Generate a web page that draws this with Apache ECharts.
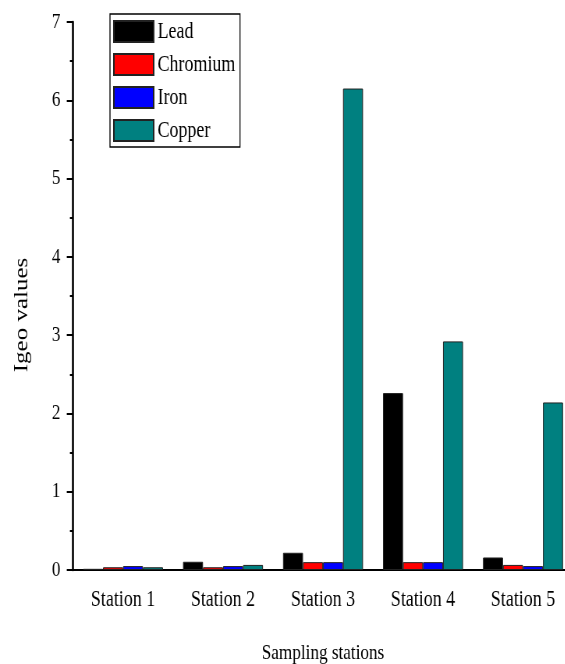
<!DOCTYPE html>
<html>
<head>
<meta charset="utf-8">
<script src="https://cdn.jsdelivr.net/npm/echarts@6/dist/echarts.min.js"></script>
<style>
html,body{margin:0;padding:0;overflow:hidden;background:#fff;width:565px;height:664px;}
#c{width:724px;height:664px;transform:scaleX(0.78);transform-origin:0 0;}
</style>
</head>
<body>
<div id="c"></div>
<script>
const categories = ['Station 1', 'Station 2', 'Station 3', 'Station 4', 'Station 5'];
const lead = [0.015, 0.105, 0.22, 2.26, 0.16];
const chromium = [0.035, 0.035, 0.1, 0.1, 0.065];
const iron = [0.05, 0.05, 0.1, 0.1, 0.05];
const copper = [0.035, 0.065, 6.15, 2.92, 2.14];
const seriesNames = ['Lead', 'Chromium', 'Iron', 'Copper'];
const colors = ['#000000', '#ff0000', '#0000ff', '#008080'];
const yTicks = [0, 1, 2, 3, 4, 5, 6, 7];

const font = 'Liberation Serif';
const chart = echarts.init(document.getElementById('c'), null, {renderer: 'canvas'});
const seriesData = [lead, chromium, iron, copper];
chart.setOption({
  animation: false,
  textStyle: {fontFamily: font, color: '#000'},
  color: colors,
  legend: {
    left: 141, top: 14, orient: 'vertical',
    icon: 'rect',
    itemWidth: 51, itemHeight: 21, itemGap: 10,
    padding: [6, 6, 5, 4],
    borderColor: '#000', borderWidth: 1.3,
    textStyle: {fontFamily: font, fontSize: 23, color: '#000'},
    data: seriesNames
  },
  grid: {left: 93.6, top: 22, width: 641, bottom: 94, containLabel: false, outerBoundsMode: 'none'},
  xAxis: [{
    type: 'category', data: categories, position: 'bottom',
    axisLine: {lineStyle: {color: '#000', width: 2}},
    axisTick: {alignWithLabel: true, length: 12, lineStyle: {color: '#000', width: 2.3}},
    axisLabel: {fontFamily: font, fontSize: 23, color: '#000', margin: 18},
    name: 'Sampling stations', nameLocation: 'middle', nameGap: 72,
    nameTextStyle: {fontFamily: font, fontSize: 22, color: '#000'}
  }, {
    type: 'category', data: categories, position: 'bottom', offset: 0,
    axisLine: {show: false},
    axisTick: {length: 5, lineStyle: {color: '#000', width: 2.3}},
    axisLabel: {show: false}
  }],
  yAxis: {
    type: 'value', min: 0, max: 7, interval: 1,
    axisLine: {show: true, lineStyle: {color: '#000', width: 2.6}},
    axisTick: {show: true, length: 8, lineStyle: {color: '#000', width: 2}},
    minorTick: {show: true, splitNumber: 2, length: 4, lineStyle: {color: '#000', width: 2}},
    splitLine: {show: false},
    axisLabel: {fontFamily: font, fontSize: 22, color: '#000', margin: 16,
      formatter: v => yTicks.includes(v) ? String(v) : ''},
    name: 'Igeo values', nameLocation: 'middle', nameGap: 53,
    nameTextStyle: {fontFamily: font, fontSize: 25, color: '#000', padding: [0, 38, 0, 0]}
  },
  series: seriesNames.map((n, i) => ({
    name: n, type: 'bar', xAxisIndex: 0, data: seriesData[i],
    barGap: '0%', barCategoryGap: '20%',
    itemStyle: {color: colors[i], borderColor: '#222', borderWidth: 1}
  }))
});
</script>
</body>
</html>
